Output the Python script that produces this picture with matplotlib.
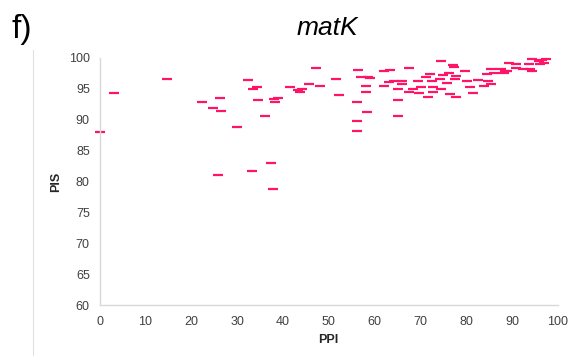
import matplotlib
matplotlib.use("Agg")
from matplotlib import pyplot as plt
from matplotlib.lines import Line2D

# PPI vs PIS values
ppi = [0.0, 3.2, 14.7, 22.3, 24.8, 26.2, 26.4, 25.9, 30.1, 32.4,
       33.3, 33.4, 34.4, 34.6, 36.0, 37.5, 37.9, 38.0, 38.3, 38.9,
       41.5, 43.4, 43.8, 44.2, 45.7, 47.2, 48.1, 51.7, 52.3, 56.1,
       56.1, 56.1, 56.5, 57.0, 58.1, 58.1, 58.3, 58.5, 59.0, 62.1,
       62.1, 63.4, 63.1, 64.2, 65.2, 65.2, 65.2, 66.0, 65.9, 67.5,
       67.6, 68.4, 69.5, 69.7, 70.1, 71.3, 71.7, 72.1, 72.5, 72.7,
       72.8, 74.5, 74.2, 74.6, 75.0, 75.9, 76.2, 76.5, 77.2, 77.4,
       77.6, 77.7, 77.8, 79.7, 80.1, 80.8, 81.5, 82.6, 83.9, 84.6,
       84.7, 85.4, 85.4, 86.1, 87.7, 88.3, 88.9, 89.3, 90.8, 90.9,
       92.4, 93.7, 94.0, 94.3, 94.3, 95.8, 96.6, 97.0, 97.4, 96.2,
       88.4]
pis = [88.0, 94.3, 96.6, 92.8, 91.9, 93.5, 91.3, 81.1, 88.8, 96.4,
       81.6, 94.9, 95.3, 93.2, 90.6, 82.9, 78.8, 93.3, 92.8, 93.5,
       95.3, 94.8, 94.5, 94.9, 95.7, 98.3, 95.5, 96.6, 94.0, 92.9,
       89.7, 88.2, 98.0, 96.9, 95.4, 94.5, 91.2, 96.8, 96.7, 95.4,
       97.8, 98.0, 96.0, 96.2, 94.9, 93.1, 90.6, 96.3, 95.8, 94.4,
       98.4, 95.0, 96.3, 94.3, 95.2, 96.8, 93.6, 97.3, 96.3, 95.2,
       94.5, 99.5, 96.6, 94.9, 97.2, 95.9, 97.6, 94.1, 98.8, 98.5,
       96.6, 93.7, 97.0, 97.8, 96.3, 95.2, 94.3, 96.4, 95.4, 97.4,
       96.3, 98.1, 95.8, 97.5, 98.2, 97.6, 97.8, 99.2, 99.0, 98.4,
       98.1, 99.0, 98.1, 97.8, 99.8, 99.4, 99.6, 99.2, 99.8, 99.0,
       97.9]
xticks = list(range(0, 101, 10))
yticks = list(range(60, 101, 5))

plt.rcParams['font.family'] = ['Liberation Sans', 'DejaVu Sans']

fig = plt.figure(figsize=(5.77, 3.56), dpi=100)
ax = fig.add_axes([0.1725, 0.143, 0.7942, 0.695])

ax.plot(ppi, pis, linestyle='none', marker='_', markersize=6.5,
        markeredgewidth=1.6, color='#ff1467', clip_on=False)

ax.set_xlim(0, 100)
ax.set_ylim(60, 100)
ax.set_xticks(xticks)
ax.set_yticks(yticks)
ax.tick_params(axis='y', length=0, labelsize=9, colors='#404040', pad=7)
ax.tick_params(axis='x', length=0, labelsize=9, colors='#404040', pad=8)
for s in ['top', 'right']:
    ax.spines[s].set_visible(False)
for s in ['left', 'bottom']:
    ax.spines[s].set_color('#d9d9d9')
    ax.spines[s].set_linewidth(1.0)

ax.set_xlabel('PPI', fontsize=9, fontweight='bold', color='#262626', labelpad=4)
ax.set_ylabel('PIS', fontsize=9, fontweight='bold', color='#262626', labelpad=5)

fig.text(0.567, 0.922, 'matK', fontsize=19, style='italic', ha='center', va='center')
fig.text(0.02, 0.918, 'f)', fontsize=24, ha='left', va='center')

# panel frame line on the left
fig.add_artist(Line2D([0.057, 0.057], [0.0, 0.86], color='#e0e0e0', linewidth=0.8))

fig.savefig('out.png', dpi=100)
